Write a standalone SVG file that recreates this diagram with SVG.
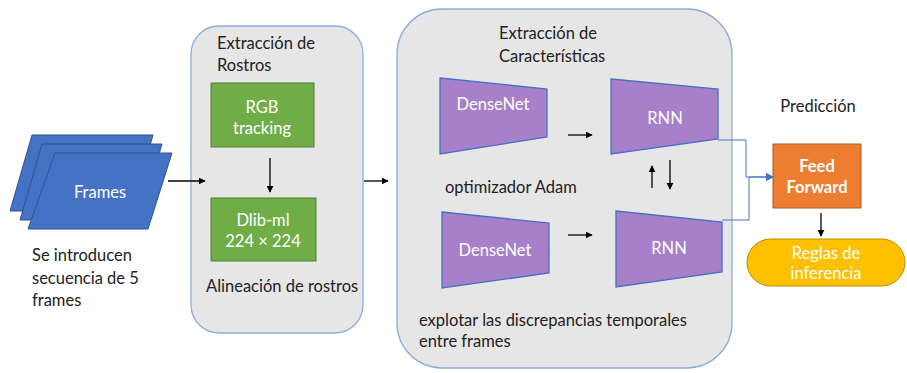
<svg xmlns="http://www.w3.org/2000/svg" width="907" height="373" viewBox="0 0 907 373">
<defs>
<marker id="ah" viewBox="0 0 10 10" refX="9" refY="5" markerWidth="7" markerHeight="7" markerUnits="userSpaceOnUse" orient="auto"><path d="M0,0 L10,5 L0,10 z" fill="#000"/></marker>
<marker id="ahb" viewBox="0 0 10 10" refX="9" refY="5" markerWidth="8" markerHeight="8" markerUnits="userSpaceOnUse" orient="auto"><path d="M0,0 L10,5 L0,10 z" fill="#4472c4"/></marker>
<style>
text{font-family:Lato,"Liberation Sans",sans-serif;font-size:16.5px;fill:#222}
.w{fill:#fff}
.c{text-anchor:middle}
.b{font-weight:bold}
.grp{fill:#e7e6e6;stroke:#8faadc;stroke-width:1.3}
.grn{fill:#70ad47;stroke:#507e32;stroke-width:1}
.pur{fill:#a87fc9;stroke:#4472c4;stroke-width:1.3}
.frm{fill:#4472c4;stroke:#2f528f;stroke-width:1}
.ln{stroke:#000;stroke-width:1.3;fill:none}
.lb{stroke:#4472c4;stroke-width:1;fill:none}
</style>
</defs>
<g id="frames">
<polygon class="frm" points="32,135 153,135 131,211 10,211"/>
<polygon class="frm" points="42,144 162,144 140,220 20,220"/>
<polygon class="frm" points="55,153 172,153 148,229 28,229"/>
<text class="w c" x="100" y="198">Frames</text>
<text x="32" y="261">Se introducen</text>
<text x="32" y="284">secuencia de 5</text>
<text x="32" y="306">frames</text>
</g>
<g id="rostros">
<rect class="grp" x="191" y="26" width="172" height="307" rx="28"/>
<text x="217" y="49">Extracción de</text>
<text x="217" y="71">Rostros</text>
</g>
<g id="rgb">
<rect class="grn" x="211" y="83" width="103" height="64"/>
<text class="w c" x="262" y="113">RGB</text>
<text class="w c" x="262" y="134">tracking</text>
</g>
<g id="dlib">
<rect class="grn" x="211" y="198" width="105" height="63"/>
<text class="w c" x="263" y="226">Dlib-ml</text>
<text class="w c" x="263" y="247">224 × 224</text>
<text x="206" y="292">Alineación de rostros</text>
</g>
<g id="caracteristicas">
<rect class="grp" x="397" y="9" width="335" height="359" rx="45"/>
<text x="499" y="39">Extracción de</text>
<text x="499" y="62">Características</text>
<text x="445" y="193">optimizador Adam</text>
<text x="419" y="326">explotar las discrepancias temporales</text>
<text x="419" y="347">entre frames</text>
</g>
<g id="densenet1">
<polygon class="pur" points="440,78 547,89 547,137 440,154"/>
<text class="w c" x="493" y="110">DenseNet</text>
</g>
<g id="rnn1">
<polygon class="pur" points="611,79 718,89 718,139 611,154"/>
<text class="w c" x="665" y="124">RNN</text>
</g>
<g id="densenet2">
<polygon class="pur" points="442,212 549,223 549,273 442,288"/>
<text class="w c" x="495" y="256">DenseNet</text>
</g>
<g id="rnn2">
<polygon class="pur" points="616,211 722,222 722,272 616,287"/>
<text class="w c" x="669" y="254">RNN</text>
</g>
<g id="prediccion">
<text class="c" x="818" y="112">Predicción</text>
</g>
<g id="feedforward">
<rect x="773" y="144" width="88" height="64" fill="#ed7d31" stroke="#ae5a21" stroke-width="1"/>
<text class="w c b" x="817" y="172">Feed</text>
<text class="w c b" x="817" y="193">Forward</text>
</g>
<g id="reglas">
<rect x="747" y="239" width="158" height="47" rx="23.5" fill="#ffc000" stroke="#bc8c00" stroke-width="1"/>
<text class="w c" x="826" y="259">Reglas de</text>
<text class="w c" x="826" y="279">inferencia</text>
</g>
<g id="connectors">
<line class="ln" x1="168" y1="181" x2="205" y2="181" marker-end="url(#ah)"/>
<line class="ln" x1="270" y1="158" x2="270" y2="192" marker-end="url(#ah)"/>
<line class="ln" x1="364" y1="181" x2="388" y2="181" marker-end="url(#ah)"/>
<line class="ln" x1="568" y1="135" x2="592" y2="135" marker-end="url(#ah)"/>
<line class="ln" x1="568" y1="235" x2="592" y2="235" marker-end="url(#ah)"/>
<line class="ln" x1="652" y1="188" x2="652" y2="166" marker-end="url(#ah)"/>
<line class="ln" x1="670" y1="160" x2="670" y2="189" marker-end="url(#ah)"/>
<line class="ln" x1="821" y1="213" x2="821" y2="236" marker-end="url(#ah)"/>
<path class="lb" d="M718,140 H746 V177 H773" marker-end="url(#ahb)"/>
<path class="lb" d="M722,220 H749 V177 H773" marker-end="url(#ahb)"/>
</g>
</svg>
